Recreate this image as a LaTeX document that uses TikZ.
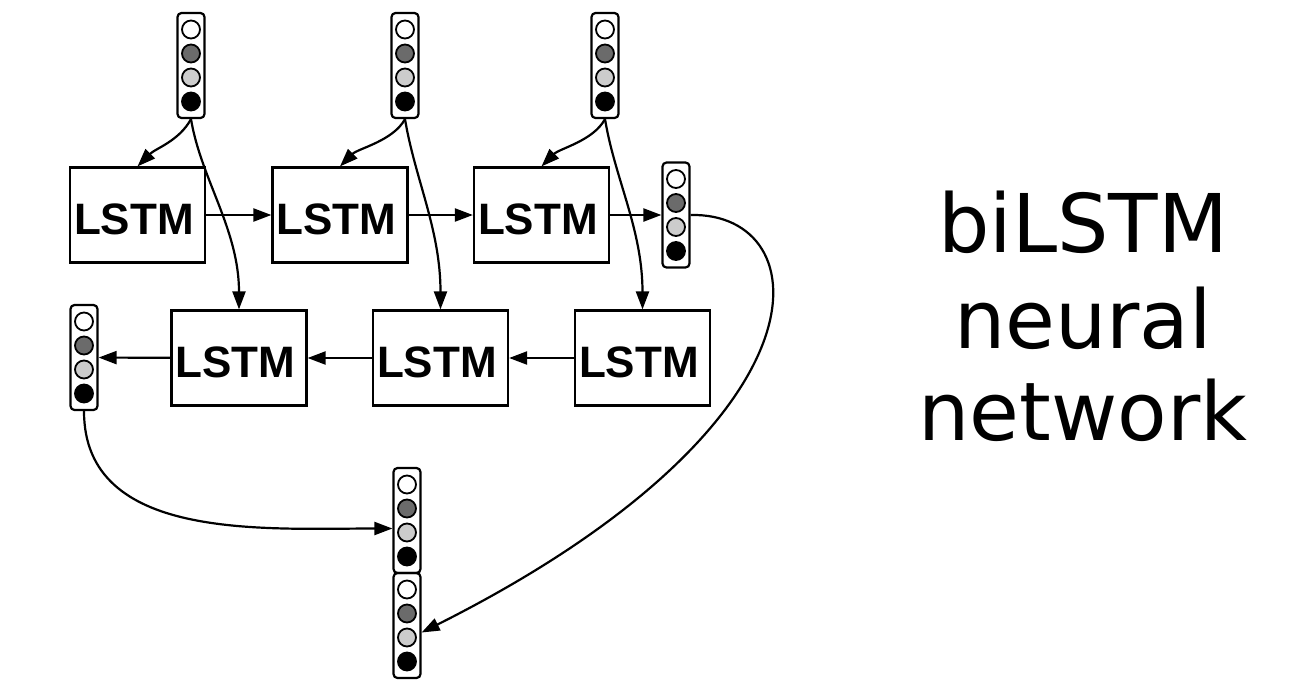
\documentclass[tikz,border=0pt]{standalone}
\usepackage{fontspec}
\newfontfamily\boxfont{Liberation Sans}
\newfontfamily\titlefont{DejaVu Sans}
\usetikzlibrary{calc,arrows.meta}
\definecolor{unitdark}{gray}{0.42}
\definecolor{unitlight}{gray}{0.8}

\begin{document}
\begin{tikzpicture}[x=1pt, y=-1pt, line width=2.2pt, >={Triangle[length=18pt,width=13pt]},
		lstm/.style={draw, minimum width=135pt, minimum height=95pt, inner ysep=0pt, inner xsep=4pt,
			text width=127pt, align=left, text height=39pt, text depth=0pt,
			font=\boxfont\bfseries\fontsize{44}{44}\selectfont},
		wvec/.style={draw, rounded corners=4pt, minimum width=27pt, minimum height=105pt, inner sep=0pt},
		unit/.style={draw, circle, minimum size=18pt, inner sep=0pt, line width=1.8pt},
		title/.style={anchor=base, font=\titlefont\fontsize{81}{94}\selectfont}]
		\useasboundingbox (0,0) rectangle (1309,681);
		% word vector: name #1, centre #2
		\newcommand{\wordvec}[2]{
			\node[wvec] (#1) at #2 {};
			\foreach \i/\dy/\col in {1/-36/white, 2/-12/unitdark, 3/12/unitlight, 4/36/black}
				\node[unit, fill=\col] (#1-\i) at ($(#1)+(0,\dy)$) {};}
		% inputs
		\wordvec{in1}{(191,65.5)}
		\wordvec{in2}{(405,65.5)}
		\wordvec{in3}{(605,65.5)}
		%%% forward row
		\node[lstm] (f1) at (137.5,215) {LSTM};
		\node[lstm] (f2) at (340,215) {LSTM};
		\node[lstm] (f3) at (541.5,215) {LSTM};
		\wordvec{outf}{(676,215)}
		%%% backward row
		\node[lstm] (b1) at (239,358) {LSTM};
		\node[lstm] (b2) at (440.5,358) {LSTM};
		\node[lstm] (b3) at (642.5,358) {LSTM};
		\wordvec{outb}{(84,357.5)}
		% concatenation
		\wordvec{cat1}{(407,520.5)}
		\wordvec{cat2}{(407,625.5)}
		% inputs into both rows
		\foreach \i in {1,2,3} {
			\draw[->] (in\i.south) .. controls +(-12,22) and +(18,-18) .. (f\i.north);
			\draw[->] (in\i.south) .. controls +(10,60) and +(0,-80) .. (b\i.north);
		}
		\draw[->] (f1) -- (f2);
		\draw[->] (f2) -- (f3);
		\draw[->] (f3) -- (outf);
		\draw[->] (b3) -- (b2);
		\draw[->] (b2) -- (b1);
		\draw[->] (b1) -- (outb);
		\draw[->] (outb.south) .. controls +(0,130) and +(-130,0) .. ([yshift=-8pt]cat1.west);
		\draw[->] (outf.east) .. controls +(129,-3) and +(418,-210) .. ([yshift=-7pt]cat2.east);
		% label
		\node[title] (t1) at (1083,252) {biLSTM};
		\node[title] (t2) at (1083,348) {neural};
		\node[title] (t3) at (1083,440) {network};
	\end{tikzpicture}
\end{document}
